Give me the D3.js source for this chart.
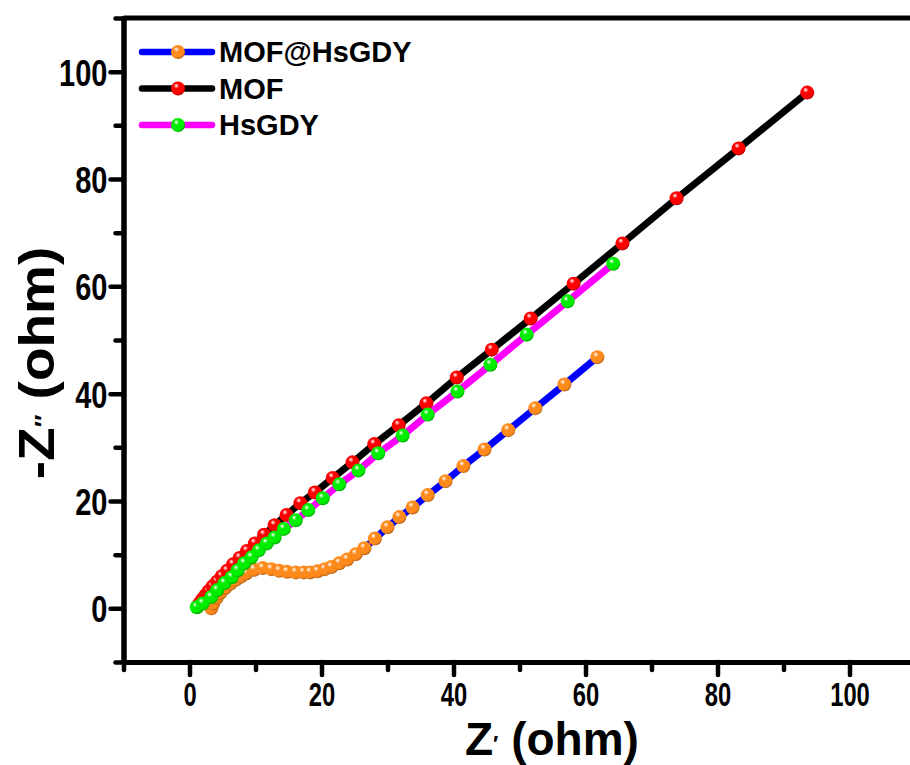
<!DOCTYPE html>
<html>
<head>
<meta charset="utf-8">
<script src="https://cdn.jsdelivr.net/npm/d3@7"></script>
<style>
  body { margin: 0; background: #fff; }
  svg { display: block; }
  text { font-family: "Liberation Sans", Arial, sans-serif; font-weight: bold; fill: #000; }
</style>
</head>
<body>
<svg id="chart" width="910" height="765"></svg>
<script>
// Nyquist data: Z' (real) and -Z'' (imaginary), in ohm
const seriesNames = ["MOF@HsGDY", "MOF", "HsGDY"];

const mofHsgdyZre = [3.3, 3.6, 4.1, 4.7, 5.4, 6.2, 7.0, 7.8, 8.6, 9.8, 11.1, 12.4, 13.6, 14.8, 16.1, 17.3,
  18.3, 19.4, 20.5, 21.5, 22.7, 23.9, 25.2, 26.5, 28.1, 30.0, 31.8, 33.8, 36.1, 38.8, 41.5, 44.7,
  48.3, 52.4, 56.8, 61.8];
const mofHsgdyZim = [0.0, 0.9, 1.9, 2.9, 3.8, 4.6, 5.3, 5.9, 6.5, 7.2, 7.5, 7.3, 7.0, 6.8, 6.7, 6.7,
  6.7, 6.9, 7.3, 7.7, 8.4, 9.1, 10.1, 11.2, 13.0, 15.1, 17.0, 18.8, 21.1, 23.7, 26.5, 29.6,
  33.2, 37.3, 41.7, 46.8];

const mofZre = [1.2, 1.5, 1.9, 2.4, 2.9, 3.5, 4.2, 4.9, 5.7, 6.6, 7.6, 8.7, 9.9, 11.3, 12.9, 14.7,
  16.8, 19.0, 21.7, 24.7, 28.0, 31.7, 35.9, 40.5, 45.8, 51.7, 58.2, 65.6, 73.8, 83.2, 93.6];
const mofZim = [0.3, 0.9, 1.6, 2.4, 3.2, 4.1, 5.0, 6.0, 7.0, 8.2, 9.4, 10.7, 12.1, 13.7, 15.5, 17.4,
  19.6, 21.6, 24.3, 27.2, 30.6, 34.1, 38.2, 43.0, 48.2, 54.0, 60.5, 68.0, 76.4, 85.7, 96.1];

const hsgdyZre = [1.1, 2.0, 3.3, 4.2, 5.3, 6.4, 7.3, 8.3, 9.4, 10.5, 11.7, 12.9, 14.3, 16.1, 18.0,
  20.2, 22.7, 25.6, 28.6, 32.3, 36.1, 40.6, 45.6, 51.1, 57.3, 64.2];
const hsgdyZim = [0.2, 0.9, 2.1, 3.4, 4.7, 5.8, 7.1, 8.4, 9.5, 10.8, 12.1, 13.2, 14.8, 16.4, 18.3,
  20.5, 23.1, 25.7, 28.9, 32.2, 36.1, 40.4, 45.4, 51.0, 57.2, 64.2];

const majorTicks = [0, 20, 40, 60, 80, 100];
const minorTicks = [-10, 10, 30, 50, 70, 90, 110];

const lineColors = ["#0000ff", "#000000", "#ff00ff"];
const markerColors = ["#ff8a1c", "#ff0000", "#00ee00"];

const series = seriesNames.map((name, i) => {
  const xs = [mofHsgdyZre, mofZre, hsgdyZre][i];
  const ys = [mofHsgdyZim, mofZim, hsgdyZim][i];
  return { name, line: lineColors[i], marker: markerColors[i], points: xs.map((v, j) => [v, ys[j]]) };
});

const svg = d3.select("#chart");
const x = d3.scaleLinear().domain([-10, 110]).range([123.5, 915.5]);
const y = d3.scaleLinear().domain([-10, 110]).range([662, 18]);

// shaded "bead" markers
const defs = svg.append("defs");
series.forEach((s, i) => {
  const g = defs.append("radialGradient").attr("id", "bead" + i)
    .attr("cx", "40%").attr("cy", "35%").attr("r", "65%").attr("fx", "38%").attr("fy", "30%");
  g.append("stop").attr("offset", "0%").attr("stop-color", "#ffffff");
  g.append("stop").attr("offset", "30%").attr("stop-color", s.marker);
  g.append("stop").attr("offset", "80%").attr("stop-color", s.marker);
  g.append("stop").attr("offset", "100%").attr("stop-color", d3.color(s.marker).darker(0.9));
});

// top edge of the frame
svg.append("line")
  .attr("x1", x(-10)).attr("x2", 910).attr("y1", y(110)).attr("y2", y(110))
  .attr("stroke", "#000").attr("stroke-width", 5);

function styleAxis(g) {
  g.select(".domain").attr("stroke-width", 5).attr("stroke-linecap", "round");
  g.selectAll(".tick line").attr("stroke-width", 4.5).attr("stroke-linecap", "round");
}

// x axis
svg.append("g").attr("transform", `translate(0,${y(-10)})`)
  .call(d3.axisBottom(x).tickValues(minorTicks).tickSize(8).tickSizeOuter(0).tickFormat(""))
  .call(styleAxis);
const xAxis = svg.append("g").attr("transform", `translate(0,${y(-10)})`)
  .call(d3.axisBottom(x).tickValues(majorTicks).tickSize(13).tickSizeOuter(0))
  .call(styleAxis);
// narrow, tall tick numerals
xAxis.selectAll(".tick text")
  .style("font-size", "34px")
  .attr("y", 0).attr("dy", 0)
  .attr("transform", "translate(0,44) scale(0.7,1)");

// y axis
svg.append("g").attr("transform", `translate(${x(-10)},0)`)
  .call(d3.axisLeft(y).tickValues(minorTicks).tickSize(8).tickSizeOuter(0).tickFormat(""))
  .call(styleAxis);
const yAxis = svg.append("g").attr("transform", `translate(${x(-10)},0)`)
  .call(d3.axisLeft(y).tickValues(majorTicks).tickSize(13).tickSizeOuter(0))
  .call(styleAxis);
yAxis.selectAll(".tick text")
  .style("font-size", "29px")
  .attr("x", 0).attr("dy", 0)
  .attr("transform", "translate(-16,0) scale(1,1.3) translate(0,10.3)");

// axis titles
const xt = svg.append("text").attr("x", 465).attr("y", 755).style("font-size", "46px");
xt.append("tspan").text("Z");
xt.append("tspan").style("font-size", "22px").attr("dy", -4).text("\u2032");
xt.append("tspan").attr("dy", 4).text(" (ohm)");

const yt = svg.append("text").attr("transform", "translate(54,363) rotate(-90) scale(1.1,1)")
  .style("font-size", "50px").attr("text-anchor", "middle");
yt.append("tspan").text("-Z");
yt.append("tspan").style("font-size", "24px").attr("dy", -2).text("\u2033");
yt.append("tspan").attr("dy", 2).text(" (ohm)");

// series
const line = d3.line().x(d => x(d[0])).y(d => y(d[1]));
series.forEach((s, i) => {
  const g = svg.append("g");
  g.append("path").datum(s.points).attr("d", line)
    .attr("fill", "none").attr("stroke", s.line).attr("stroke-width", 7)
    .attr("stroke-linejoin", "round").attr("stroke-linecap", "round");
  g.selectAll("circle").data(s.points).join("circle")
    .attr("cx", d => x(d[0])).attr("cy", d => y(d[1])).attr("r", 7)
    .attr("fill", `url(#bead${i})`);
});

// legend
const legend = svg.append("g");
series.forEach((s, i) => {
  const ly = 52 + i * 36.5;
  legend.append("line").attr("x1", 142).attr("x2", 212).attr("y1", ly).attr("y2", ly)
    .attr("stroke", s.line).attr("stroke-width", 6.5).attr("stroke-linecap", "round");
  legend.append("circle").attr("cx", 178).attr("cy", ly).attr("r", 7).attr("fill", `url(#bead${i})`);
  legend.append("text").attr("x", 219).attr("y", ly).attr("dy", "0.36em")
    .style("font-size", "29px").text(s.name);
});
</script>
</body>
</html>
